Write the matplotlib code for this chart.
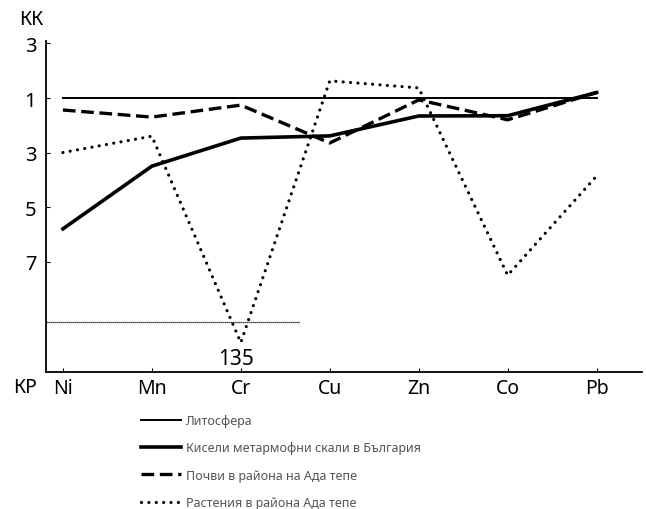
import numpy as np
import matplotlib
matplotlib.use('Agg')
import matplotlib.pyplot as plt

plt.rcParams['font.family'] = ['Noto Sans', 'DejaVu Sans']

elements = ['Ni', 'Mn', 'Cr', 'Cu', 'Zn', 'Co', 'Pb']

# signed coefficients: positive = KK (concentration), negative = KP (dispersion)
lithosphere = [1, 1, 1, 1, 1, 1, 1]
rocks_bg = [-5.8, -3.5, -2.47, -2.39, -1.66, -1.65, 1.2]
soils_ada = [-1.44, -1.7, -1.26, -2.65, -1.07, -1.8, 1.2]
plants_ada = [-3.0, -2.4, -135, 1.63, 1.37, -7.5, -3.86]

labels = ['Литосфера',
          'Кисели метармофни скали в България',
          'Почви в района на Ада тепе',
          'Растения в района Ада тепе']

ytick_pos = [2, 0, -2, -4, -6]
ytick_lab = ['3', '1', '3', '5', '7']

break_pos = -8.22   # dotted break line
off_scale_pos = -8.97


def to_axis(v):
    v = np.asarray(v, dtype=float)
    t = np.where(v > 0, v - 1, v + 1)
    t = np.where(t < -9, off_scale_pos, t)
    return t


x = np.arange(len(elements))

fig = plt.figure(figsize=(6.46, 5.10), dpi=100)
ax = fig.add_axes([0.0712, 0.2686, 0.9226, 0.649])

h1, = ax.plot(x, to_axis(lithosphere), color='black', lw=1.4)
h2, = ax.plot(x, to_axis(rocks_bg), color='black', lw=2.6)
h3, = ax.plot(x, to_axis(soils_ada), color='black', lw=2.4,
              linestyle=(0, (3.8, 1.7)))
h4, = ax.plot(x, to_axis(plants_ada), color='black', lw=2.3,
              linestyle=(0, (0.01, 2.3)), dash_capstyle='round')

ax.plot([-0.19, 2.67], [break_pos, break_pos], color='black', lw=0.9,
        linestyle=(0, (1, 0.6)))
ax.text(2 - 0.05, -9.55, '135', ha='center', va='center', fontsize=15)

ax.set_xlim(-0.19, 6.51)
ax.set_ylim(-10.05, 2.09)
ax.set_xticks(x)
ax.set_xticklabels(elements, fontsize=14)
ax.set_yticks(ytick_pos)
ax.set_yticklabels(ytick_lab, fontsize=14.5)
ax.tick_params(axis='x', direction='in', length=3, pad=4)
ax.tick_params(axis='y', direction='in', length=3, pad=7)
for s in ['top', 'right']:
    ax.spines[s].set_visible(False)
for s in ['left', 'bottom']:
    ax.spines[s].set_linewidth(1.3)

fig.text(31 / 646, 1 - 20 / 510, 'КК', ha='center', va='center', fontsize=14)
fig.text(25 / 646, 1 - 388 / 510, 'КР', ha='center', va='center', fontsize=14)

leg = fig.legend([h1, h2, h3, h4], labels, loc='upper left',
                 bbox_to_anchor=(136 / 646, 1 - 410 / 510), frameon=False,
                 fontsize=9, handlelength=3.2, handletextpad=0.4,
                 labelspacing=1.15, borderaxespad=0)
for t in leg.get_texts():
    t.set_color('#555555')

fig.savefig('out.png', dpi=100)
